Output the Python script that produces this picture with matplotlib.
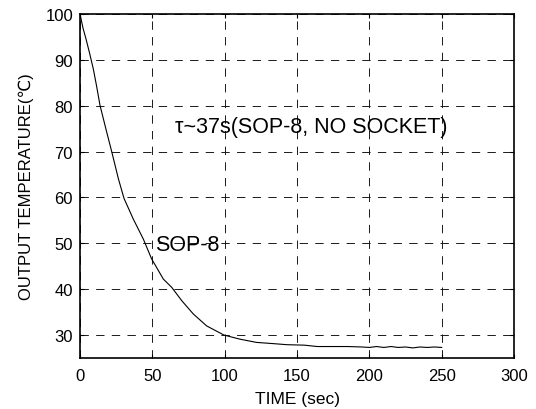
import matplotlib
matplotlib.use("Agg")
import matplotlib.pyplot as plt

plt.rcParams['font.family'] = ['Liberation Sans', 'DejaVu Sans']

time_s = [0, 2, 4.1, 6.5, 9.2, 11.5, 13.8, 18, 21.9, 26.5, 30.4, 36.8, 43.8, 49.5,
          57.6, 63.4, 70.3, 78.3, 87.5, 99.5, 110.6, 122, 135, 143, 155, 164,
          175, 185, 195, 200, 205, 210, 215, 220, 225, 230, 235, 240, 245, 250]
temp_c = [100, 97.0, 94.6, 91.6, 88.0, 84.2, 80.1, 74.8, 70.0, 64.1, 59.8, 55.3, 50.9, 46.6,
          42.2, 40.4, 37.5, 34.6, 32.0, 30.0, 29.1, 28.4, 28.1, 27.9, 27.8, 27.5,
          27.5, 27.5, 27.4, 27.3, 27.5, 27.3, 27.5, 27.3, 27.4, 27.2, 27.4, 27.3, 27.4, 27.3]

xticks = [0, 50, 100, 150, 200, 250, 300]
yticks = [30, 40, 50, 60, 70, 80, 90, 100]

fig = plt.figure(figsize=(5.36, 4.10), dpi=100)
ax = fig.add_axes([0.1493, 0.1244, 0.8097, 0.839])
ax.plot(time_s, temp_c, color='black', linewidth=0.8)
ax.set_xlim(0, 300)
ax.set_ylim(25, 100)
ax.set_xticks(xticks)
ax.set_yticks(yticks)
ax.tick_params(direction='in', length=3, width=0.8, labelsize=12, top=True, right=True, pad=5)
ax.tick_params(axis='x', pad=7)
ax.grid(True, color='#1a1a1a', linestyle=(0, (8.6, 7.5)), linewidth=0.7)
for s in ax.spines.values():
    s.set_linewidth(1.2)
ax.set_xlabel('TIME (sec)', fontsize=12.5, labelpad=6)
ax.set_ylabel('OUTPUT TEMPERATURE(℃)', fontsize=12, labelpad=8)
ax.text(65.7, 75.4, 'τ~37s(SOP-8, NO SOCKET)', fontsize=15.5, va='center', ha='left')
ax.text(52, 49.7, 'SOP-8', fontsize=15.5, va='center', ha='left')

fig.savefig('out.png', dpi=100)
